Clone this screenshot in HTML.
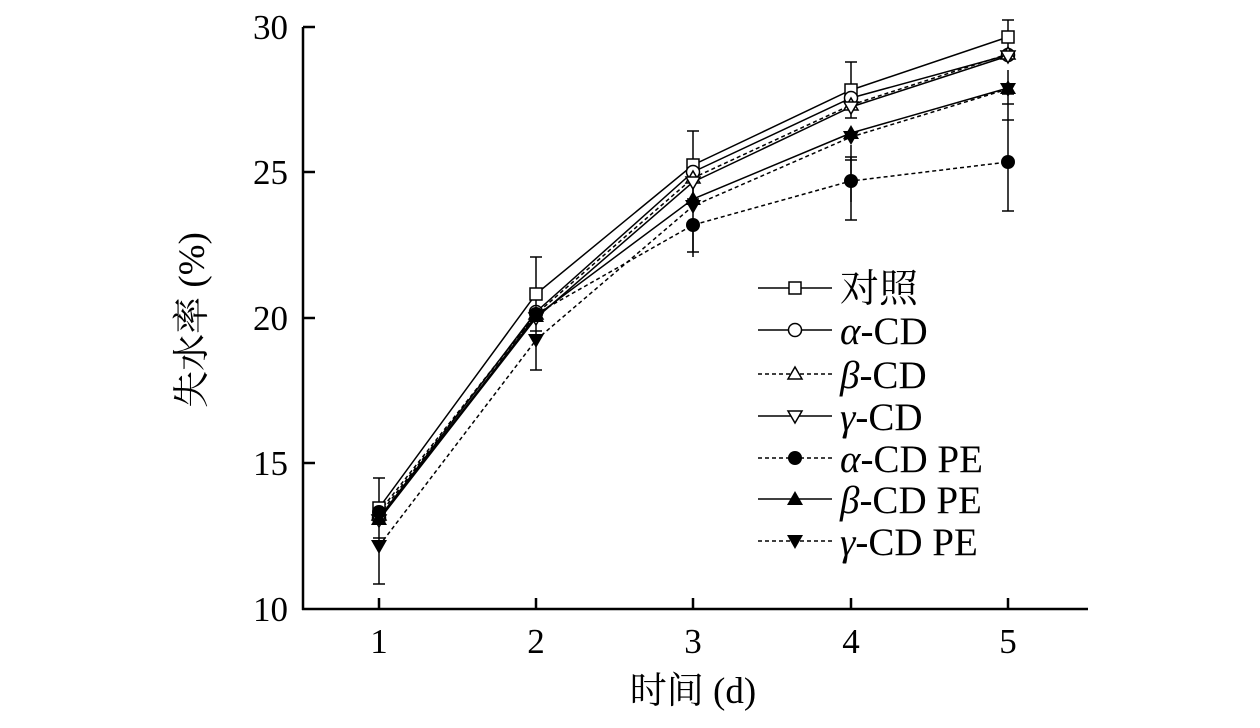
<!DOCTYPE html>
<html><head><meta charset="utf-8"><style>body{margin:0;background:#fff}</style></head><body>
<svg width="1260" height="723" xmlns="http://www.w3.org/2000/svg" font-family="'Liberation Serif','Noto Serif CJK SC',serif">
<g stroke="#000" stroke-width="2.5" fill="none">
<line x1="303" y1="27" x2="303" y2="610"/><line x1="302" y1="609" x2="1088" y2="609"/>
<g stroke-width="2.5">
<line x1="303" y1="27" x2="315" y2="27"/><line x1="303" y1="172" x2="315" y2="172"/><line x1="303" y1="318" x2="315" y2="318"/><line x1="303" y1="463" x2="315" y2="463"/>
<line x1="379" y1="609" x2="379" y2="598"/><line x1="536" y1="609" x2="536" y2="598"/><line x1="693" y1="609" x2="693" y2="598"/><line x1="851" y1="609" x2="851" y2="598"/><line x1="1008" y1="609" x2="1008" y2="598"/>
</g></g>
<g font-size="35" text-anchor="end"><text x="288" y="39">30</text><text x="288" y="184">25</text><text x="288" y="330">20</text><text x="288" y="475">15</text><text x="288" y="621">10</text></g>
<g font-size="35" text-anchor="middle"><text x="379" y="653">1</text><text x="536" y="653">2</text><text x="693" y="653">3</text><text x="851" y="653">4</text><text x="1008" y="653">5</text>
<text x="693" y="703" font-size="37">时间 (d)</text>
<text transform="translate(204,320) rotate(-90)" font-size="37">失水率 (%)</text></g>
<g stroke="#000" stroke-width="1.5" fill="none">
<path d="M379 478V538M373 478h12M373 538h12M536 257V331M530 257h12M530 331h12M693 131V199M687 131h12M687 199h12M851 62V118M845 62h12M845 118h12M1008 20V54M1002 20h12M379 584V520M373 584h12M536 370V312M530 370h12M693 223V257M687 223h12M851 157V202M845 157h12"/>
<path d="M693 180V252M687 252h12M851 145V220M845 220h12M845 160h12M1008 70V211M1002 211h12M1002 120h12M1002 104h12M1002 94h12"/>
<polyline points="379,508 536,294 693,165 851,90 1008,37"/>
<polyline points="379,518 536,312 693,172 851,98 1008,55"/>
<polyline stroke-dasharray="4,3" points="379,515 536,314 693,178 851,105 1008,54"/>
<polyline points="379,520 536,318 693,182 851,107 1008,56"/>
<polyline stroke-dasharray="4,3" points="379,512 536,314 693,225 851,181 1008,162"/>
<polyline points="379,519 536,316 693,199 851,133 1008,88"/>
<polyline stroke-dasharray="4,3" points="379,546 536,340 693,206 851,137 1008,89"/>
</g>
<defs>
<rect id="sq" x="-6" y="-6" width="12" height="12" fill="#fff" stroke="#000" stroke-width="1.5"/>
<circle id="oc" r="6.5" fill="#fff" stroke="#000" stroke-width="1.5"/>
<path id="ot" d="M0-7L7 5H-7Z" fill="#fff" stroke="#000" stroke-width="1.5"/>
<path id="od" d="M0 7L7-5H-7Z" fill="#fff" stroke="#000" stroke-width="1.5"/>
<circle id="fc" r="7"/>
<path id="ft" d="M0-8L8 6H-8Z"/>
<path id="fd" d="M0 8L8-6H-8Z"/>
</defs>
<g>
<use href="#sq" x="379" y="508"/><use href="#sq" x="536" y="294"/><use href="#sq" x="693" y="165"/><use href="#sq" x="851" y="90"/><use href="#sq" x="1008" y="37"/>
<use href="#oc" x="379" y="518"/><use href="#oc" x="536" y="312"/><use href="#oc" x="693" y="172"/><use href="#oc" x="851" y="98"/><use href="#oc" x="1008" y="55"/>
<use href="#ot" x="379" y="515"/><use href="#ot" x="536" y="314"/><use href="#ot" x="693" y="178"/><use href="#ot" x="851" y="105"/><use href="#ot" x="1008" y="54"/>
<use href="#od" x="379" y="520"/><use href="#od" x="536" y="318"/><use href="#od" x="693" y="182"/><use href="#od" x="851" y="107"/><use href="#od" x="1008" y="56"/>
<use href="#fc" x="379" y="512"/><use href="#fc" x="536" y="314"/><use href="#fc" x="693" y="225"/><use href="#fc" x="851" y="181"/><use href="#fc" x="1008" y="162"/>
<use href="#ft" x="379" y="519"/><use href="#ft" x="536" y="316"/><use href="#ft" x="693" y="199"/><use href="#ft" x="851" y="133"/><use href="#ft" x="1008" y="88"/>
<use href="#fd" x="379" y="546"/><use href="#fd" x="536" y="340"/><use href="#fd" x="693" y="206"/><use href="#fd" x="851" y="137"/><use href="#fd" x="1008" y="89"/>
</g>
<g stroke="#000" stroke-width="1.5">
<line x1="758" y1="288" x2="832" y2="288"/><line x1="758" y1="330" x2="832" y2="330"/>
<line x1="758" y1="374" x2="832" y2="374" stroke-dasharray="4,3"/><line x1="758" y1="416" x2="832" y2="416"/>
<line x1="758" y1="458" x2="832" y2="458" stroke-dasharray="4,3"/><line x1="758" y1="499" x2="832" y2="499"/>
<line x1="758" y1="541" x2="832" y2="541" stroke-dasharray="4,3"/>
</g>
<use href="#sq" x="795" y="288"/><use href="#oc" x="795" y="330"/><use href="#ot" x="795" y="374"/><use href="#od" x="795" y="416"/><use href="#fc" x="795" y="458"/><use href="#ft" x="795" y="499"/><use href="#fd" x="795" y="541"/>
<g font-size="39">
<text x="840" y="302">对照</text>
<text x="840" y="344"><tspan font-style="italic">α</tspan>-CD</text>
<text x="840" y="388"><tspan font-style="italic">β</tspan>-CD</text>
<text x="840" y="430"><tspan font-style="italic">γ</tspan>-CD</text>
<text x="840" y="472"><tspan font-style="italic">α</tspan>-CD PE</text>
<text x="840" y="513"><tspan font-style="italic">β</tspan>-CD PE</text>
<text x="840" y="555"><tspan font-style="italic">γ</tspan>-CD PE</text>
</g>
</svg>
</body></html>
